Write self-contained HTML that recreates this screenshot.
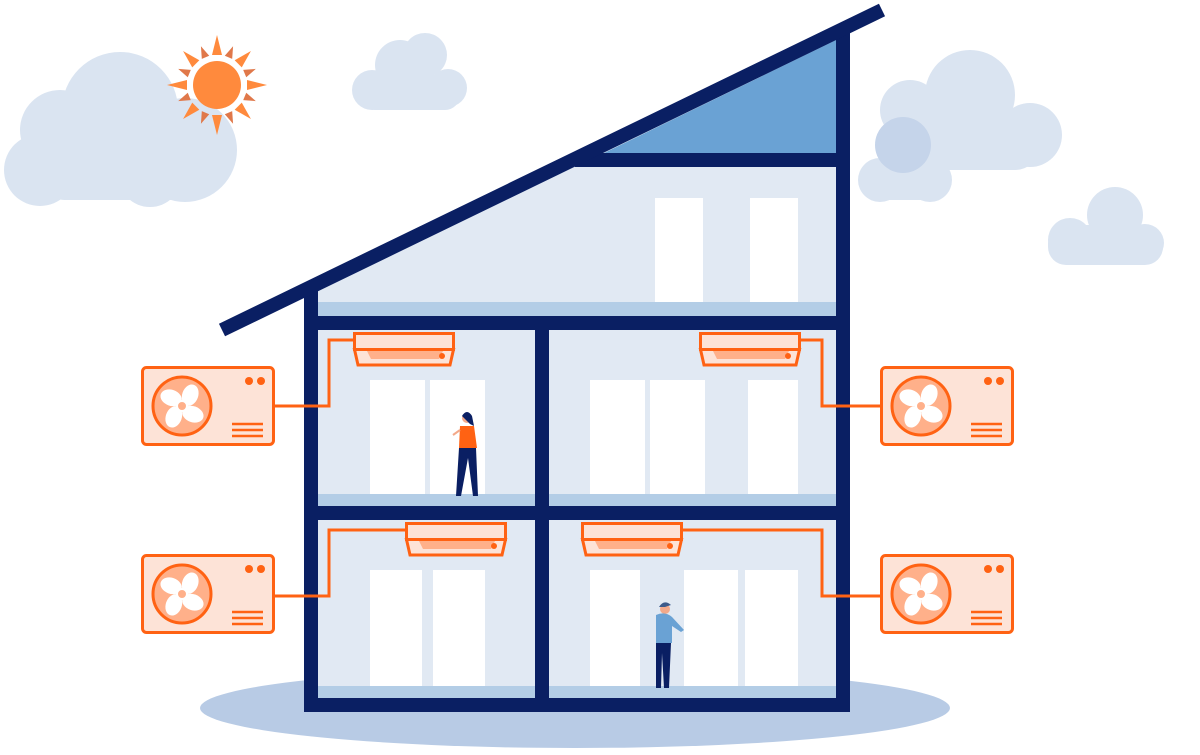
<!DOCTYPE html><html><head><style>html,body{margin:0;padding:0;background:#fff}svg{display:block}</style></head><body>
<svg width="1200" height="755" viewBox="0 0 1200 755" xmlns="http://www.w3.org/2000/svg">
<defs>
<g id="out">
<rect x="1.5" y="1.5" width="131" height="77" rx="4" fill="#fde3d7" stroke="#ff6213" stroke-width="3"/>
<circle cx="41" cy="40" r="29" fill="#ffb08a" stroke="#ff6213" stroke-width="3"/>
<g fill="#fff" transform="translate(41,40) rotate(20)">
<ellipse cx="4" cy="-13" rx="8" ry="11"/><ellipse cx="-4" cy="13" rx="8" ry="11"/>
<ellipse cx="-13" cy="-4" rx="11" ry="8"/><ellipse cx="13" cy="4" rx="11" ry="8"/>
</g>
<circle cx="41" cy="40" r="5" fill="#ffb08a" stroke="#fff" stroke-width="2"/>
<circle cx="108" cy="15" r="4" fill="#ff6213"/><circle cx="120" cy="15" r="4" fill="#ff6213"/>
<g stroke="#ff6213" stroke-width="2.5"><line x1="91" y1="58" x2="122" y2="58"/><line x1="91" y1="64" x2="122" y2="64"/><line x1="91" y1="70" x2="122" y2="70"/></g>
</g>
<g id="in">
<rect x="1.5" y="1.5" width="99" height="16" fill="#fde3d7" stroke="#ff6213" stroke-width="3"/>
<polygon points="1.5,17.5 100.5,17.5 97,33 5,33" fill="#fde3d7" stroke="#ff6213" stroke-width="3"/>
<polygon points="14,19 90,19 86,27 18,27" fill="#ffb08a"/>
<circle cx="89" cy="24" r="3" fill="#ff6213"/>
</g>
</defs>
<g fill="#dae4f1">
<circle cx="40" cy="170" r="36"/><circle cx="60" cy="130" r="40"/><circle cx="120" cy="110" r="58"/><circle cx="185" cy="150" r="52"/><circle cx="150" cy="175" r="32"/><rect x="40" y="140" width="170" height="60" rx="25"/>
<circle cx="372" cy="90" r="20"/><circle cx="400" cy="65" r="25"/><circle cx="425" cy="55" r="22"/><circle cx="448" cy="88" r="19"/><rect x="360" y="75" width="100" height="35" rx="15"/>
<circle cx="910" cy="110" r="30"/><circle cx="970" cy="95" r="45"/><circle cx="1030" cy="135" r="32"/><circle cx="880" cy="180" r="22"/><circle cx="930" cy="180" r="22"/><rect x="900" y="110" width="140" height="60" rx="25"/><rect x="860" y="160" width="90" height="40" rx="18"/>
<circle cx="1070" cy="240" r="22"/><circle cx="1115" cy="215" r="28"/><circle cx="1145" cy="243" r="19"/><rect x="1048" y="225" width="115" height="40" rx="18"/>
</g>
<circle cx="903" cy="145" r="28" fill="#c5d4ea"/>
<g fill="#ff8a3d">
<circle cx="217" cy="85" r="24"/>
<g transform="translate(217,85)">
<polygon points="-5,-30 5,-30 0,-50"/><polygon points="-5,30 5,30 0,50"/><polygon points="30,-5 30,5 50,0"/><polygon points="-30,-5 -30,5 -50,0"/>
<g transform="rotate(45)"><polygon points="-5,-30 5,-30 0,-48"/><polygon points="-5,30 5,30 0,48"/><polygon points="30,-5 30,5 48,0"/><polygon points="-30,-5 -30,5 -48,0"/></g>
<g transform="rotate(22.5)" fill="#e0784a"><polygon points="-4,-30 4,-30 0,-42"/><polygon points="-4,30 4,30 0,42"/><polygon points="30,-4 30,4 42,0"/><polygon points="-30,-4 -30,4 -42,0"/></g>
<g transform="rotate(67.5)" fill="#e0784a"><polygon points="-4,-30 4,-30 0,-42"/><polygon points="-4,30 4,30 0,42"/><polygon points="30,-4 30,4 42,0"/><polygon points="-30,-4 -30,4 -42,0"/></g>
</g></g>
<ellipse cx="575" cy="708" rx="375" ry="40" fill="#b8cbe5"/>
<polygon points="311,290 843,32 843,705 311,705" fill="#e1e9f3"/>
<polygon points="600,155 836,40 836,155" fill="#6aa2d4"/>
<g fill="#b3cde6"><rect x="318" y="302" width="518" height="14"/><rect x="318" y="494" width="518" height="12"/><rect x="318" y="686" width="518" height="12"/></g>
<g fill="#fff">
<rect x="655" y="198" width="48" height="104"/><rect x="750" y="198" width="48" height="104"/>
<rect x="370" y="380" width="55" height="114"/><rect x="430" y="380" width="55" height="114"/>
<rect x="590" y="380" width="55" height="114"/><rect x="650" y="380" width="55" height="114"/><rect x="748" y="380" width="50" height="114"/>
<rect x="370" y="570" width="52" height="116"/><rect x="433" y="570" width="52" height="116"/>
<rect x="590" y="570" width="50" height="116"/><rect x="684" y="570" width="54" height="116"/><rect x="745" y="570" width="53" height="116"/>
</g>
<g fill="#0a1f63">
<rect x="304" y="290" width="14" height="422"/><rect x="836" y="25" width="14" height="687"/>
<rect x="304" y="698" width="546" height="14"/><rect x="304" y="316" width="546" height="14"/><rect x="304" y="506" width="546" height="14"/>
<rect x="535" y="316" width="14" height="396"/><rect x="575" y="153" width="275" height="14"/>
</g>
<line x1="222" y1="330" x2="882" y2="10" stroke="#0a1f63" stroke-width="14"/>
<g fill="none" stroke="#ff6213" stroke-width="3">
<polyline points="274,406 329,406 329,340 355,340"/>
<polyline points="799,340 822,340 822,406 880,406"/>
<polyline points="274,596 329,596 329,530 407,530"/>
<polyline points="680,530 822,530 822,596 880,596"/>
</g>
<use href="#in" x="353" y="332"/><use href="#in" x="699" y="332"/><use href="#in" x="405" y="522"/><use href="#in" x="581" y="522"/>
<use href="#out" x="141" y="366"/><use href="#out" x="141" y="554"/><use href="#out" x="880" y="366"/><use href="#out" x="880" y="554"/>
<g>
<circle cx="467" cy="418" r="5" fill="#f3a98a"/><path d="M462,416 q5,-8 10,0 l2,10 l-4,-2z" fill="#0a1f63"/>
<path d="M460,426 h14 l3,22 h-18z" fill="#ff6213"/>
<path d="M459,448 h17 l2,48 h-5 l-5,-38 l-7,38 h-5z" fill="#0a1f63"/>
<line x1="460" y1="430" x2="453" y2="435" stroke="#f3a98a" stroke-width="2"/>
</g>
<g>
<circle cx="665" cy="609" r="5" fill="#f3a98a"/><path d="M659,607 q5,-8 12,-2 l-6,2z" fill="#3c5a8a"/>
<path d="M656,615 q9,-4 16,2 l12,13 -3,2 -9,-6 v17 h-16z" fill="#6aa2d4"/>
<path d="M656,643 h15 l-2,45 h-5 l-2,-35 l-1,35 h-5z" fill="#0a1f63"/>
</g>
</svg>
</body></html>
